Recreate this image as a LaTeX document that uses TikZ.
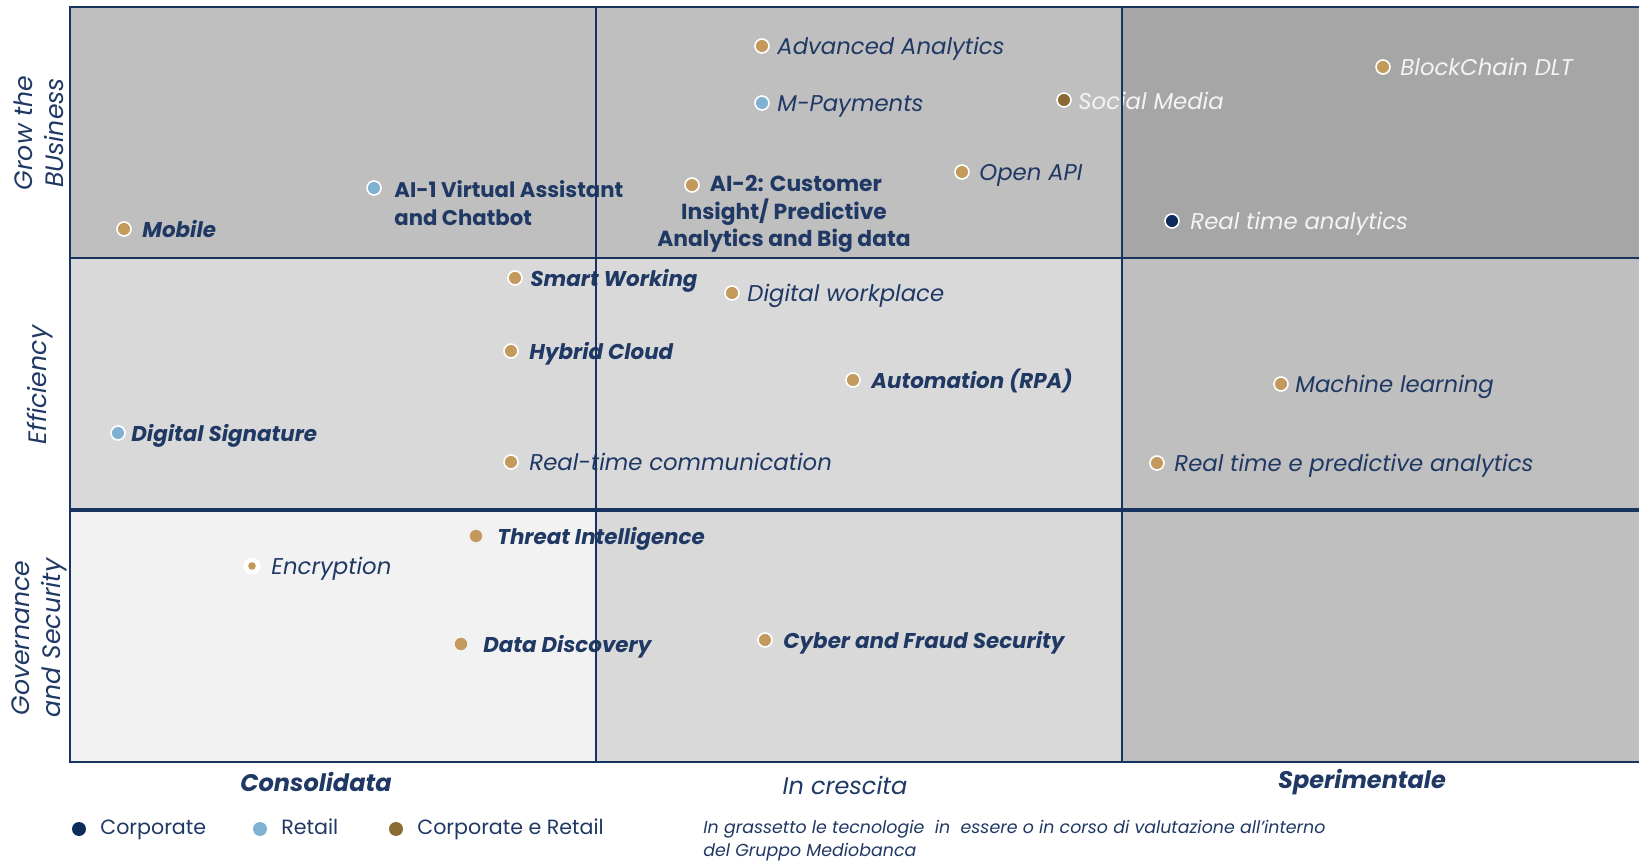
\documentclass[tikz,border=0pt]{standalone}
\usepackage{fontspec}
\setmainfont{Poppins}
\definecolor{navy}{HTML}{1F3864}
\definecolor{gline}{HTML}{17345F}
\definecolor{gold}{HTML}{C39A5B}
\definecolor{brown}{HTML}{8C6A34}
\definecolor{lblue}{HTML}{7FB1D3}
\definecolor{dnavy}{HTML}{0D2C5C}
\definecolor{wtext}{HTML}{F4F4F4}
\definecolor{cellA}{HTML}{BFBFBF}
\definecolor{cellB}{HTML}{A6A6A6}
\definecolor{cellC}{HTML}{D9D9D9}
\definecolor{cellD}{HTML}{F2F2F2}
\tikzset{
  bul/.style={circle, fill=#1, draw=white, line width=0.8pt, minimum size=7pt, inner sep=0pt},
  bulp/.style={circle, fill=#1, minimum size=6.2pt, inner sep=0pt},
  itm/.style={anchor=west, inner sep=0pt, text=navy, text height=9.2pt, text depth=1.4pt, font=\fontsize{11.4}{13}\selectfont\itshape},
  bitm/.style={anchor=west, inner sep=0pt, text=navy, text height=9pt, text depth=1.3pt, font=\fontsize{10.7}{12.5}\selectfont\bfseries\itshape},
  uitm/.style={anchor=west, inner sep=0pt, text=navy, align=left, font=\fontsize{10.6}{13.6}\selectfont\bfseries},
  witm/.style={itm, text=wtext},
  rowlab/.style={rotate=90, align=center, inner sep=0pt, text=navy, font=\fontsize{12.6}{15.5}\selectfont\itshape},
  collab/.style={inner sep=0pt, text=navy, font=\fontsize{12}{14}\selectfont\bfseries\itshape},
  leg/.style={anchor=west, inner sep=0pt, text=navy, text height=7.4pt, text depth=2.2pt, font=\fontsize{10.3}{12}\selectfont},
  note/.style={anchor=west, inner sep=0pt, text=navy, align=left, font=\fontsize{8.7}{11.5}\selectfont\itshape},
  gl/.style={draw=gline, line width=0.75pt},
  glh/.style={draw=gline, line width=1.1pt},
  glhh/.style={draw=gline, line width=1.6pt}
}
\begin{document}
\begin{tikzpicture}[x=0.5pt,y=-0.5pt]
\useasboundingbox (0,0) rectangle (1639,865);
% cells
\fill[cellA] (70,7) rectangle (596,258);
\fill[cellA] (596,7) rectangle (1122,258);
\fill[cellB] (1122,7) rectangle (1648,258);
\fill[cellC] (70,258) rectangle (596,510);
\fill[cellC] (596,258) rectangle (1122,510);
\fill[cellA] (1122,258) rectangle (1648,510);
\fill[cellD] (70,510) rectangle (596,762);
\fill[cellC] (596,510) rectangle (1122,762);
\fill[cellA] (1122,510) rectangle (1648,762);

% Grow the business
\node[bul=gold] (d1) at (124,229) {};
\node[bitm] (t1) at (142,230) {Mobile};
\node[bul=lblue] (d2) at (374,188) {};
\node[uitm] (t2) at (394,203) {AI-1 Virtual Assistant\\and Chatbot};
\node[bul=gold] (d3) at (692,185) {};
\node[inner sep=0pt, text=navy, align=center, font=\fontsize{10.9}{13.6}\selectfont\bfseries] (t3) at (784,214) {\hspace*{1.1em}AI-2: Customer\\Insight/ Predictive\\Analytics and Big data};
\node[bul=gold] (d4) at (762,46) {};
\node[itm] (t4) at (777,47) {Advanced Analytics};
\node[bul=lblue] (d5) at (762,103) {};
\node[itm] (t5) at (777,104) {M-Payments};
\node[bul=brown] (d6) at (1064,100) {};
\node[witm] (t6) at (1078,102) {Social Media};
\node[bul=gold] (d7) at (962,172) {};
\node[itm] (t7) at (979,173) {Open API};
\node[bul=gold] (d8) at (1383,67) {};
\node[witm] (t8) at (1400,68) {BlockChain DLT};
\node[bul=dnavy] (d9) at (1172,221) {};
\node[witm] (t9) at (1190,222) {Real time analytics};

% Efficiency
\node[bul=gold] (d10) at (515,278) {};
\node[bitm] (t10) at (530,279) {Smart Working};
\node[bul=gold] (d11) at (732,293) {};
\node[itm] (t11) at (747,294) {Digital workplace};
\node[bul=gold] (d12) at (511,351) {};
\node[bitm] (t12) at (529,352) {Hybrid Cloud};
\node[bul=gold] (d13) at (853,380) {};
\node[bitm] (t13) at (871,381) {Automation (RPA)};
\node[bul=lblue] (d14) at (118,433) {};
\node[bitm] (t14) at (131,434) {Digital Signature};
\node[bul=gold] (d15) at (511,462) {};
\node[itm] (t15) at (529,463) {Real-time communication};
\node[bul=gold] (d16) at (1281,384) {};
\node[itm] (t16) at (1295,385) {Machine learning};
\node[bul=gold] (d17) at (1157,463) {};
\node[itm] (t17) at (1174,464) {Real time e predictive analytics};

% Governance and Security
\node[bulp=gold] (d18) at (476,536) {};
\node[bitm] (t18) at (497,537) {Threat Intelligence};
\node[circle, fill=white, minimum size=8.5pt, inner sep=0pt] (d19w) at (252,566) {};
\node[circle, fill=gold, minimum size=3.8pt, inner sep=0pt] (d19) at (252,566) {};
\node[itm] (t19) at (271,567) {Encryption};
\node[bulp=gold] (d20) at (461,644) {};
\node[bitm] (t20) at (483,645) {Data Discovery};
\node[bul=gold] (d21) at (765,640) {};
\node[bitm] (t21) at (783,641) {Cyber and Fraud Security};

% grid lines
\draw[gl] (596,7) -- (596,762);
\draw[gl] (1122,7) -- (1122,762);
\draw[glh] (70,258) -- (1648,258);
\draw[glhh] (70,510) -- (1648,510);
\draw[gl, line width=1pt] (1648,7) -- (70,7) -- (70,762) -- (1648,762);

% row labels
\node[rowlab] (r1) at (39,133) {Grow the\\BUsiness};
\node[rowlab] (r2) at (40,385) {Efficiency};
\node[rowlab] (r3) at (39,638) {Governance\\and Security};

% column labels
\node[collab] (c1) at (316,782) {Consolidata};
\node[collab, font=\fontsize{12}{14}\selectfont\itshape] (c2) at (845,785) {In crescita};
\node[collab] (c3) at (1362,782) {Sperimentale};

% legend
\node[bulp=dnavy, minimum size=7pt] (l1) at (79,829) {};
\node[leg] (lt1) at (100,829) {Corporate};
\node[bulp=lblue, minimum size=7pt] (l2) at (260,829) {};
\node[leg] (lt2) at (281,829) {Retail};
\node[bulp=brown, minimum size=7pt] (l3) at (396,829) {};
\node[leg] (lt3) at (417,829) {Corporate e Retail};
\node[note] (n1) at (703,841) {In grassetto le tecnologie \ in \ essere o in corso di valutazione all’interno\\del Gruppo Mediobanca};
\end{tikzpicture}
\end{document}
